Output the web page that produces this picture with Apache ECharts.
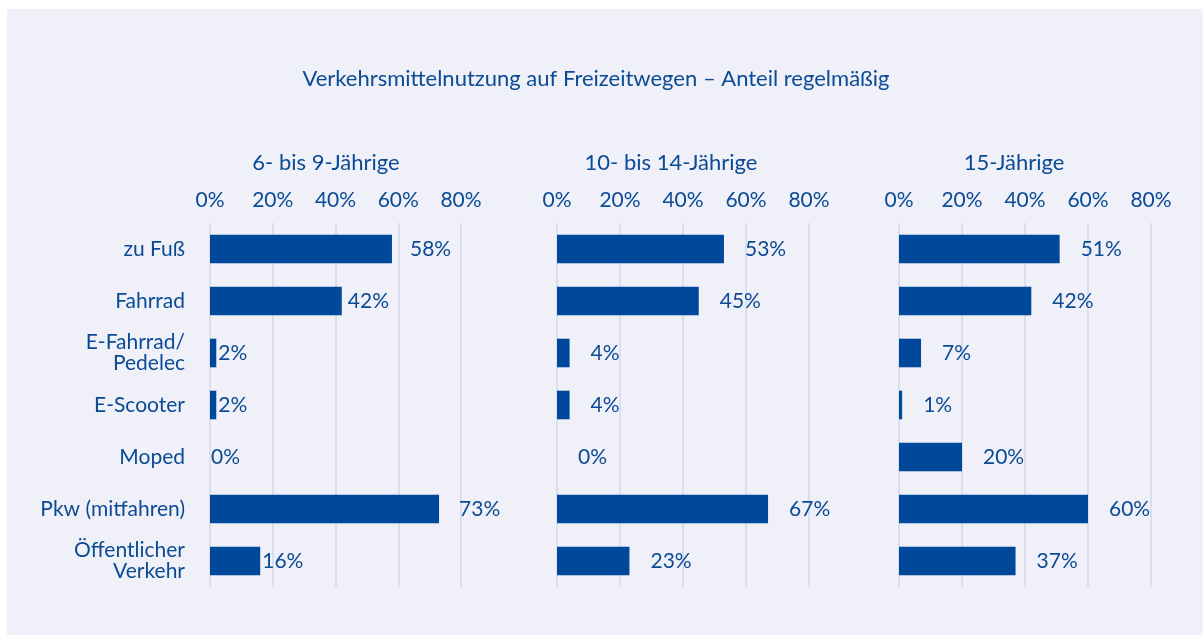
<!DOCTYPE html>
<html>
<head>
<meta charset="utf-8">
<script src="https://cdn.jsdelivr.net/npm/echarts@6/dist/echarts.min.js"></script>
<style>
  html, body { margin: 0; padding: 0; background: #ffffff; }
  #chart { position: absolute; left: 7px; top: 9px; width: 1196px; height: 626px; background: #eff0f8; }
</style>
</head>
<body>
<div id="chart"></div>
<script>
// Share of regular use per mode of transport on leisure trips, by age group
const categories = ['zu Fuß', 'Fahrrad', 'E-Fahrrad/\nPedelec', 'E-Scooter', 'Moped', 'Pkw (mitfahren)', 'Öffentlicher\nVerkehr'];
const groupTitles = ['6- bis 9-Jährige', '10- bis 14-Jährige', '15-Jährige'];
const age6to9 = [58, 42, 2, 2, 0, 73, 16];
const age10to14 = [53, 45, 4, 4, 0, 67, 23];
const age15 = [51, 42, 7, 1, 20, 60, 37];
const tickValues = [0, 20, 40, 60, 80];
const mainTitle = 'Verkehrsmittelnutzung auf Freizeitwegen – Anteil regelmäßig';

const BLUE = '#00499a';
const TEXT = '#0b4a94';
const GRID = '#d5d8ee';
const FONT = 'Lato, "Open Sans", sans-serif';
const FS = 21;

const chart = echarts.init(document.getElementById('chart'), null, { renderer: 'canvas' });

// panel layout (chart div is offset by 7px / 9px inside the page);
// labelGaps: spacing between each bar end and its value label
const panels = [
  { left: 203, width: 251, titleX: 314, values: age6to9, labelGaps: [18, 6, 2, 2, 1, 20, 2] },
  { left: 550, width: 252, titleX: 659, values: age10to14, labelGaps: [21, 21, 21, 21, 21, 21, 21] },
  { left: 892, width: 252, titleX: 1002, values: age15, labelGaps: [21, 21, 21, 21, 21, 21, 21] }
];

const grids = [], xAxes = [], yAxes = [], series = [], titles = [];

titles.push({
  text: mainTitle, left: 584, top: 54, textAlign: 'center',
  textStyle: { color: TEXT, fontFamily: FONT, fontSize: 22, fontWeight: 'normal' }
});

panels.forEach((p, i) => {
  grids.push({ left: p.left, width: p.width, top: 214, height: 364, containLabel: false });
  titles.push({
    text: groupTitles[i], left: p.titleX, top: 138, textAlign: 'center',
    textStyle: { color: TEXT, fontFamily: FONT, fontSize: 22, fontWeight: 'normal' }
  });
  xAxes.push({
    type: 'value', gridIndex: i, position: 'top', min: 0, max: 80, interval: 20,
    axisLine: { show: false }, axisTick: { show: false },
    axisLabel: {
      color: TEXT, fontFamily: FONT, fontSize: FS, margin: 12,
      formatter: v => tickValues.includes(v) ? v + '%' : ''
    },
    splitLine: { show: true, lineStyle: { color: GRID, width: 1.5 } }
  });
  yAxes.push({
    type: 'category', gridIndex: i, data: categories, inverse: true,
    axisLine: { show: false }, axisTick: { show: false },
    axisLabel: {
      show: i === 0, color: TEXT, fontFamily: FONT, fontSize: FS,
      lineHeight: 21, margin: 25, align: 'right'
    }
  });
  series.push({
    type: 'bar', xAxisIndex: i, yAxisIndex: i,
    data: p.values.map((v, k) => ({ value: v, label: { distance: p.labelGaps[k] } })),
    barCategoryGap: '45%',
    itemStyle: { color: BLUE },
    label: {
      show: true, position: 'right',
      formatter: '{c}%', color: TEXT, fontFamily: FONT, fontSize: FS
    },
    silent: true, animation: false
  });
});

chart.setOption({
  backgroundColor: '#eff0f8',
  animation: false,
  title: titles,
  grid: grids,
  xAxis: xAxes,
  yAxis: yAxes,
  series: series
});
</script>
</body>
</html>
